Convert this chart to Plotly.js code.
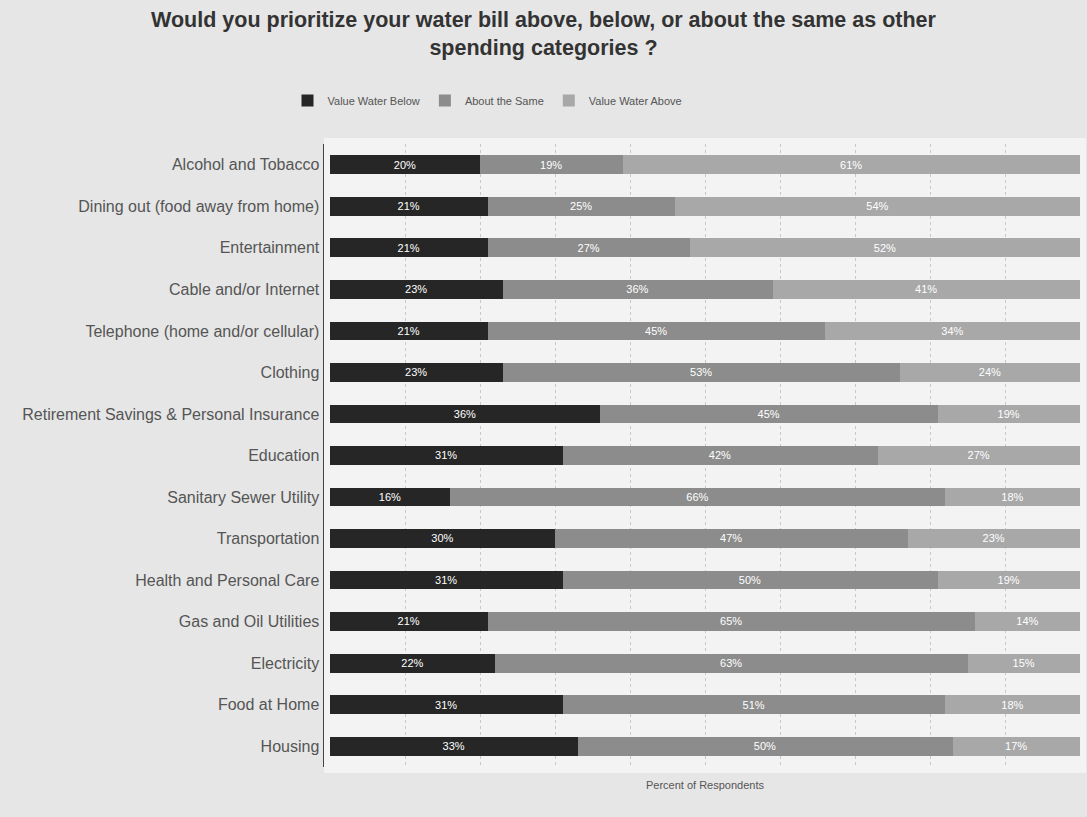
<!DOCTYPE html>
<html>
<head>
<meta charset="utf-8">
<script src="https://cdn.plot.ly/plotly-3.0.1.min.js"></script>
<style>html,body{margin:0;padding:0;background:#e6e6e6;}#chart{width:1087px;height:817px;}</style>
</head>
<body>
<div id="chart"></div>
<script>
const categories = [
  "Alcohol and Tobacco",
  "Dining out (food away from home)",
  "Entertainment",
  "Cable and/or Internet",
  "Telephone (home and/or cellular)",
  "Clothing",
  "Retirement Savings & Personal Insurance",
  "Education",
  "Sanitary Sewer Utility",
  "Transportation",
  "Health and Personal Care",
  "Gas and Oil Utilities",
  "Electricity",
  "Food at Home",
  "Housing"
];
const valueWaterBelow = [20, 21, 21, 23, 21, 23, 36, 31, 16, 30, 31, 21, 22, 31, 33];
const aboutTheSame    = [19, 25, 27, 36, 45, 53, 45, 42, 66, 47, 50, 65, 63, 51, 50];
const valueWaterAbove = [61, 54, 52, 41, 34, 24, 19, 27, 18, 23, 19, 14, 15, 18, 17];
const seriesNames = ["Value Water Below", "About the Same", "Value Water Above"];
const seriesColors = ["#262626", "#8c8c8c", "#a8a8a8"];

const pct = v => v.map(x => x + "%");
const series = [valueWaterBelow, aboutTheSame, valueWaterAbove];
const traces = series.map((vals, i) => ({
  type: "bar",
  orientation: "h",
  name: seriesNames[i],
  y: categories,
  x: vals,
  text: pct(vals),
  textposition: "inside",
  insidetextanchor: "middle",
  textfont: {color: "#ffffff", size: 13, family: "Liberation Sans, Arial, sans-serif"},
  marker: {color: seriesColors[i]},
  hoverinfo: "x+y+name"
}));

const layout = {
  width: 1087,
  height: 817,
  barmode: "stack",
  bargap: 0.55,
  paper_bgcolor: "#e6e6e6",
  plot_bgcolor: "#f3f3f3",
  font: {family: "Liberation Sans, Arial, sans-serif", color: "#555555", size: 11},
  title: {
    text: "<b>Would you prioritize your water bill above, below, or about the same as other<br>spending categories ?</b>",
    x: 0.5, xanchor: "center", y: 0.967, yanchor: "middle",
    font: {size: 21.5, color: "#333333", family: "Liberation Sans, Arial, sans-serif"}
  },
  legend: {
    orientation: "h", x: 0.21, xanchor: "center", y: 1.07, yanchor: "middle",
    font: {size: 11, color: "#555555"}, traceorder: "normal", bgcolor: "rgba(0,0,0,0)"
  },
  margin: {l: 330, r: 7, t: 144, b: 50, pad: 6},
  xaxis: {
    range: [0, 100],
    showticklabels: false,
    showgrid: true, gridcolor: "#c8c8c8", griddash: "dot", gridwidth: 1,
    dtick: 10,
    zeroline: false,
    title: {text: "Percent of Respondents", font: {size: 11, color: "#555555"}, standoff: 14}
  },
  yaxis: {
    autorange: "reversed",
    showline: true, linecolor: "#444444", linewidth: 1.5,
    ticks: "", showgrid: false,
    tickfont: {size: 16, color: "#555555"}
  }
};

Plotly.newPlot("chart", traces, layout, {displayModeBar: false, staticPlot: true});
</script>
</body>
</html>
